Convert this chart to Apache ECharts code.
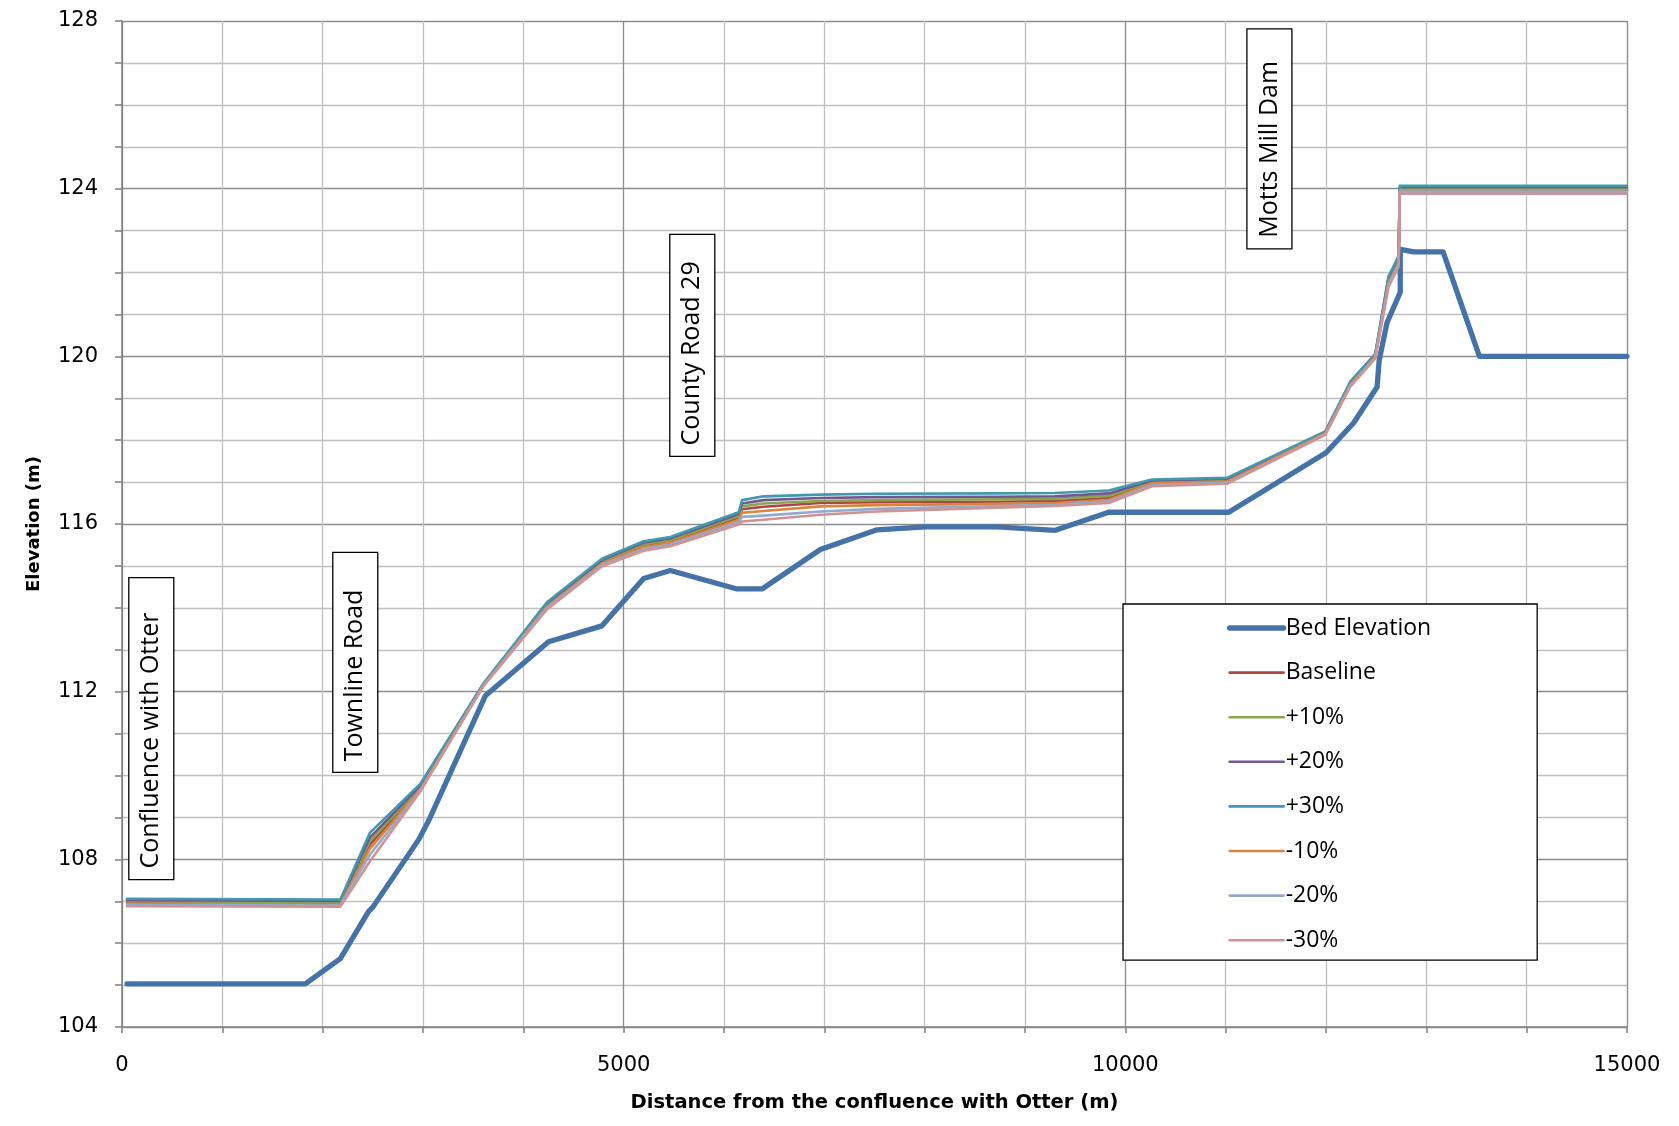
<!DOCTYPE html>
<html>
<head>
<meta charset="utf-8">
<title>Water surface profiles</title>
<script src="https://cdn.jsdelivr.net/npm/echarts@6/dist/echarts.min.js"></script>
<style>
  html, body { margin: 0; padding: 0; background: #ffffff; }
  #chart { width: 1679px; height: 1126px; }
</style>
</head>
<body>
<div id="chart"></div>
<script>
// Channel bed profile (distance in m, elevation in m)
const bedX = [50, 1827, 2176, 2458, 2500, 2957, 3056, 3621, 4251, 4784, 5199, 5465, 6130, 6379, 6960, 7525,
  8007, 8721, 9302, 9834, 11030, 12000, 12275, 12509, 12530, 12608, 12740, 12740, 12874, 13167, 13529, 15000];
const bedY = [105.03, 105.03, 105.63, 106.76, 106.86, 108.47, 108.92, 111.90, 113.19, 113.57, 114.70, 114.89,
  114.45, 114.45, 115.39, 115.86, 115.93, 115.93, 115.85, 116.28, 116.28, 117.70, 118.41, 119.27, 119.90,
  120.80, 121.53, 122.55, 122.49, 122.49, 120.00, 120.00];

// Cross-section stations used by the water surface runs
const wsX = [50, 2176, 2470, 2973, 3604, 4235, 4784, 5199, 5465, 6146, 6180, 6395, 6961, 7527, 8721, 9299,
  9834, 10266, 11013, 11993, 12243, 12491, 12622, 12724, 12735, 15000];

// Water surface elevations for each flow scenario
const wsBaseline = [106.97, 106.95, 108.35, 109.70, 112.17, 114.06, 115.08, 115.49, 115.59, 116.15, 116.35, 116.41,
  116.50, 116.52, 116.53, 116.55, 116.62, 117.00, 117.04, 118.17, 119.34, 120.01, 121.78, 122.27, 123.99, 123.99];
const wsPlus10 = [107.00, 106.98, 108.43, 109.73, 112.18, 114.08, 115.11, 115.52, 115.62, 116.19, 116.42, 116.49,
  116.55, 116.57, 116.59, 116.60, 116.67, 117.02, 117.06, 118.18, 119.36, 120.02, 121.82, 122.31, 124.01, 124.01];
const wsPlus20 = [107.03, 107.01, 108.52, 109.76, 112.19, 114.10, 115.14, 115.56, 115.66, 116.24, 116.49, 116.57,
  116.62, 116.64, 116.65, 116.66, 116.73, 117.04, 117.08, 118.19, 119.38, 120.04, 121.86, 122.35, 124.04, 124.04];
const wsPlus30 = [107.06, 107.04, 108.63, 109.80, 112.20, 114.13, 115.17, 115.59, 115.69, 116.28, 116.57, 116.66,
  116.70, 116.72, 116.73, 116.74, 116.80, 117.06, 117.10, 118.21, 119.40, 120.06, 121.90, 122.39, 124.07, 124.07];
const wsMinus10 = [106.94, 106.92, 108.25, 109.67, 112.16, 114.03, 115.05, 115.45, 115.55, 116.10, 116.27, 116.31,
  116.42, 116.45, 116.48, 116.50, 116.58, 116.97, 117.01, 118.16, 119.32, 119.99, 121.74, 122.23, 123.96, 123.96];
const wsMinus20 = [106.91, 106.90, 108.11, 109.64, 112.15, 114.00, 115.02, 115.40, 115.51, 116.04, 116.17, 116.20,
  116.30, 116.36, 116.43, 116.46, 116.54, 116.93, 116.98, 118.14, 119.30, 119.97, 121.70, 122.19, 123.93, 123.93];
const wsMinus30 = [106.88, 106.87, 107.95, 109.62, 112.14, 113.96, 114.99, 115.36, 115.47, 115.99, 116.06, 116.10,
  116.22, 116.30, 116.39, 116.43, 116.50, 116.90, 116.96, 118.13, 119.28, 119.95, 121.65, 122.15, 123.88, 123.88];

// Landmark labels along the reach, anchored at (distance, elevation)
const noteText = ['Confluence with Otter', 'Townline Road', 'County Road 29', 'Motts Mill Dam'];
const noteDist = [292, 2325, 5684, 11436];
const noteElev = [111.12, 112.70, 120.26, 125.19];

const pairs = (xs, ys) => xs.map((x, i) => [x, ys[i]]);

const profiles = [
  { name: 'Bed Elevation', x: bedX, y: bedY, color: '#4572A7', width: 5.3 },
  { name: 'Baseline', x: wsX, y: wsBaseline, color: '#AA4643', width: 2.6 },
  { name: '+10%', x: wsX, y: wsPlus10, color: '#89A54E', width: 2.6 },
  { name: '+20%', x: wsX, y: wsPlus20, color: '#71588F', width: 2.6 },
  { name: '+30%', x: wsX, y: wsPlus30, color: '#4198AF', width: 2.6 },
  { name: '-10%', x: wsX, y: wsMinus10, color: '#DB843D', width: 2.6 },
  { name: '-20%', x: wsX, y: wsMinus20, color: '#93A9CF', width: 2.6 },
  { name: '-30%', x: wsX, y: wsMinus30, color: '#D19392', width: 2.6 }
];

const chart = echarts.init(document.getElementById('chart'), null, { renderer: 'canvas' });

const tickFont = { fontFamily: 'DejaVu Sans', fontSize: 21, color: '#000' };
const majorGrid = { color: '#8c8c8c', width: 1.3 };
const minorGrid = { color: '#c0c0c0', width: 1.3 };
const axisGray = { color: '#868686', width: 1.6 };
const plainNumber = v => String(v);

chart.setOption({
  animation: false,
  backgroundColor: '#ffffff',
  grid: { left: 122, right: 52, top: 21, bottom: 99 },
  xAxis: {
    type: 'value', min: 0, max: 15000, interval: 5000,
    name: 'Distance from the confluence with Otter (m)',
    nameLocation: 'middle', nameGap: 66,
    nameTextStyle: { fontFamily: 'DejaVu Sans', fontWeight: 'bold', fontSize: 19.5, color: '#000' },
    axisLine: { show: true, onZero: false, lineStyle: axisGray },
    axisTick: { show: true, length: 6, lineStyle: axisGray },
    minorTick: { show: true, splitNumber: 5, length: 6, lineStyle: axisGray },
    axisLabel: Object.assign({ margin: 28, formatter: plainNumber }, tickFont),
    splitLine: { show: true, lineStyle: majorGrid },
    minorSplitLine: { show: true, lineStyle: minorGrid }
  },
  yAxis: {
    type: 'value', min: 104, max: 128, interval: 4,
    name: 'Elevation (m)',
    nameLocation: 'middle', nameGap: 79,
    nameTextStyle: { fontFamily: 'DejaVu Sans', fontWeight: 'bold', fontSize: 18, color: '#000' },
    axisLine: { show: true, onZero: false, lineStyle: axisGray },
    axisTick: { show: true, length: 7, lineStyle: axisGray },
    minorTick: { show: true, splitNumber: 4, length: 7, lineStyle: axisGray },
    axisLabel: Object.assign({ margin: 24, formatter: plainNumber }, tickFont),
    splitLine: { show: true, lineStyle: majorGrid },
    minorSplitLine: { show: true, lineStyle: minorGrid }
  },
  legend: {
    orient: 'vertical',
    left: 1123, top: 604,
    padding: [12, 106, 8, 104],
    itemWidth: 54, itemHeight: 14, itemGap: 20.6,
    backgroundColor: '#ffffff',
    borderColor: '#000000', borderWidth: 1.3,
    itemStyle: { opacity: 0 },
    lineStyle: { width: 'inherit', cap: 'round' },
    textStyle: { fontFamily: 'Open Sans', fontSize: 23, lineHeight: 24, color: '#000', padding: [0, 0, 0, -3] },
    data: profiles.map(p => p.name)
  },
  series: profiles.map(p => ({
    name: p.name,
    type: 'line',
    data: pairs(p.x, p.y),
    symbol: 'none',
    smooth: false,
    color: p.color,
    lineStyle: { color: p.color, width: p.width, cap: 'round', join: 'round' },
    emphasis: { disabled: true }
  }))
});

// Boxed, vertical landmark labels placed at their data positions
const noteLength = [302, 220, 222, 220];
const noteThickness = 45;
chart.setOption({
  graphic: noteText.map((t, i) => {
    const pt = chart.convertToPixel({ gridIndex: 0 }, [noteDist[i], noteElev[i]]);
    const L = noteLength[i];
    return {
      type: 'group', x: pt[0], y: pt[1], rotation: Math.PI / 2, z: 100,
      children: [
        { type: 'rect', shape: { x: -L / 2, y: -noteThickness / 2, width: L, height: noteThickness },
          style: { fill: '#ffffff', stroke: '#000000', lineWidth: 1.3 } },
        { type: 'text', x: -L / 2 + 11, y: 0,
          style: { text: t, fill: '#000000', fontFamily: 'Open Sans', fontSize: 25, align: 'left', verticalAlign: 'middle' } }
      ]
    };
  })
});
</script>
</body>
</html>
